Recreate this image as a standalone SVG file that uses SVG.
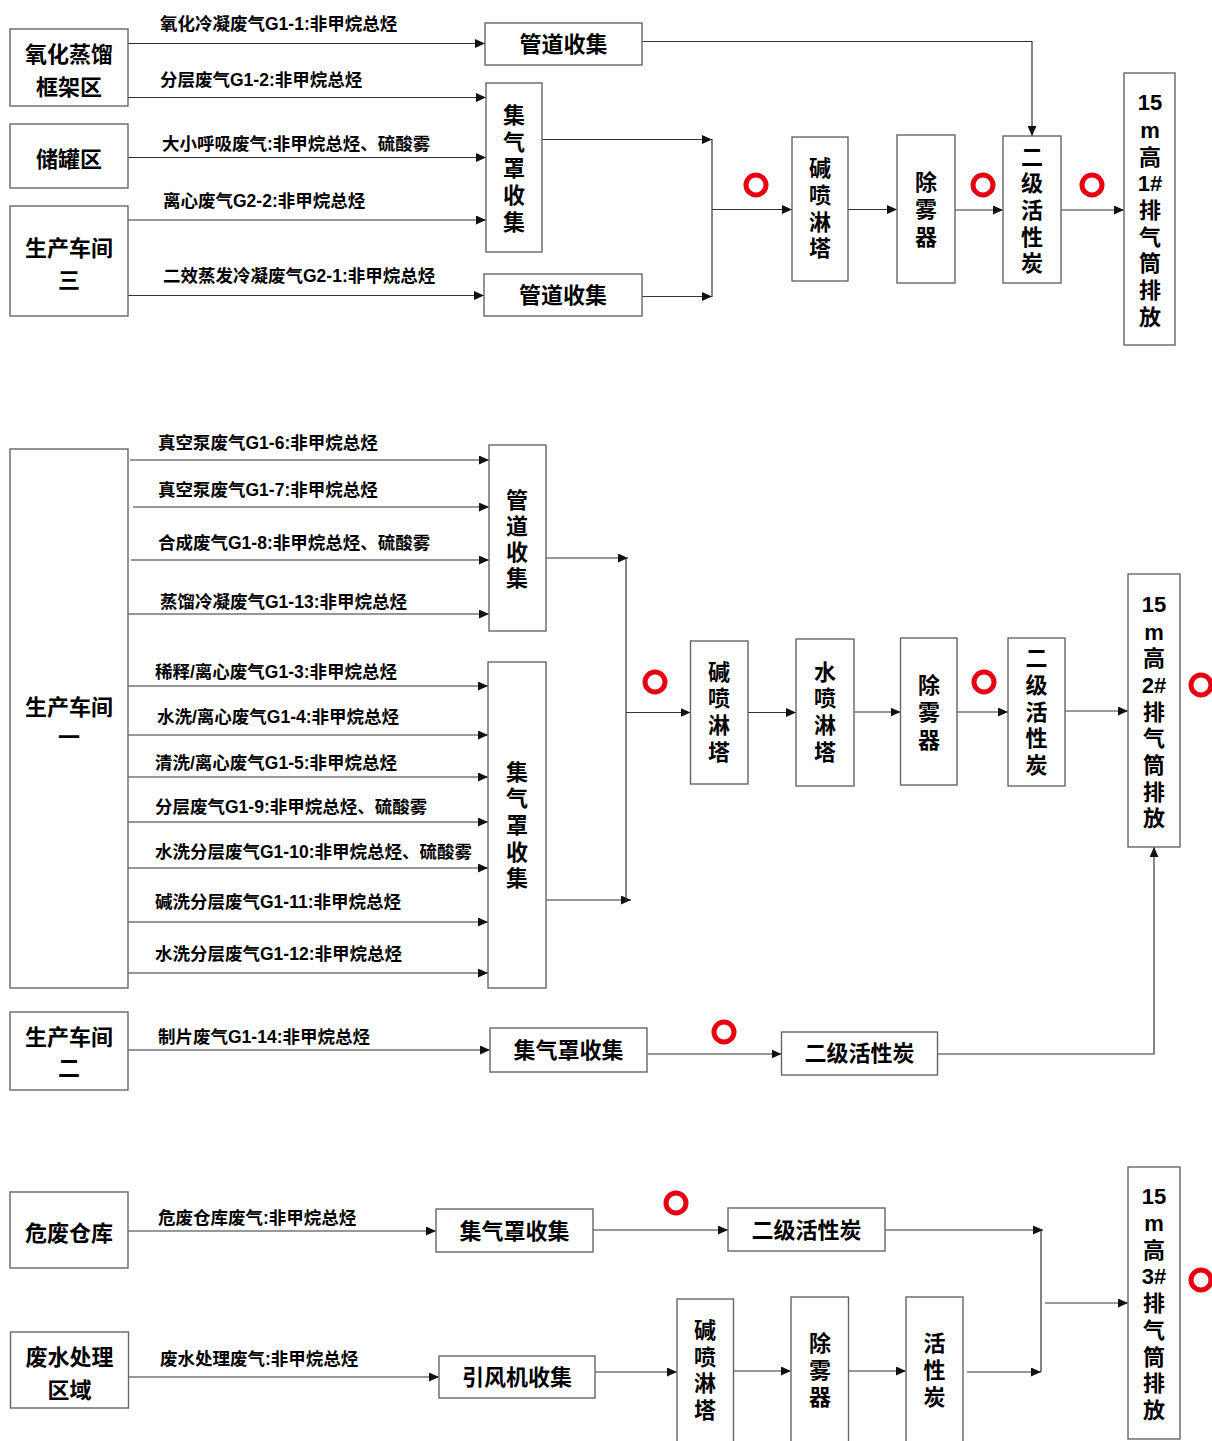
<svg xmlns="http://www.w3.org/2000/svg" width="1212" height="1441" viewBox="0 0 1212 1441">
<defs>
<marker id="ah" viewBox="0 0 10 9" refX="10" refY="4.5" markerWidth="10" markerHeight="9" markerUnits="userSpaceOnUse" orient="auto">
<path d="M0,0 L10,4.5 L0,9 z" fill="#111"/>
</marker>
<style>
.box{fill:#fff;stroke:#666;stroke-width:1.4}
.t{font-family:"Liberation Sans","Noto Sans CJK SC",sans-serif;font-weight:bold;font-size:22px;fill:#000;text-anchor:middle;dominant-baseline:central}
.lb{font-family:"Liberation Sans","Noto Sans CJK SC",sans-serif;font-weight:bold;font-size:17.5px;fill:#000;dominant-baseline:central}
.ln{fill:none;stroke:#333;stroke-width:1.2}
.ar{fill:none;stroke:#333;stroke-width:1.2;marker-end:url(#ah)}
.mk{fill:none;stroke:#e60012;stroke-width:5}
</style>
</defs>
<rect width="1212" height="1441" fill="#fff"/>

<g id="connectors">
<!-- top section -->
<line class="ar" x1="128" y1="43.5" x2="485" y2="43.5"/>
<line class="ar" x1="128" y1="97.5" x2="486" y2="97.5"/>
<line class="ar" x1="128" y1="157.5" x2="486" y2="157.5"/>
<line class="ar" x1="128" y1="220" x2="486" y2="220"/>
<line class="ar" x1="128" y1="295.5" x2="484" y2="295.5"/>
<polyline class="ar" points="642,41.5 1032,41.5 1032,136"/>
<line class="ar" x1="542" y1="139.5" x2="712" y2="139.5"/>
<line class="ar" x1="642" y1="296.5" x2="712" y2="296.5"/>
<line class="ln" x1="712" y1="139" x2="712" y2="297"/>
<line class="ar" x1="712" y1="209.5" x2="792" y2="209.5"/>
<line class="ar" x1="848" y1="209.5" x2="897" y2="209.5"/>
<line class="ar" x1="955" y1="210" x2="1003" y2="210"/>
<line class="ar" x1="1061" y1="210" x2="1124" y2="210"/>
<!-- middle section -->
<line class="ar" x1="130" y1="460" x2="489" y2="460"/>
<line class="ar" x1="133" y1="507" x2="489" y2="507"/>
<line class="ar" x1="131" y1="560" x2="489" y2="560"/>
<line class="ar" x1="128" y1="614" x2="489" y2="614"/>
<line class="ar" x1="128" y1="686" x2="488" y2="686"/>
<line class="ar" x1="128" y1="735" x2="488" y2="735"/>
<line class="ar" x1="128" y1="777" x2="488" y2="777"/>
<line class="ar" x1="128" y1="822" x2="488" y2="822"/>
<line class="ar" x1="128" y1="868" x2="488" y2="868"/>
<line class="ar" x1="128" y1="922" x2="488" y2="922"/>
<line class="ar" x1="128" y1="973" x2="488" y2="973"/>
<line class="ar" x1="546" y1="558" x2="628" y2="558"/>
<line class="ar" x1="546" y1="900" x2="631" y2="900"/>
<line class="ln" x1="626" y1="557" x2="626" y2="901"/>
<line class="ar" x1="626" y1="712.5" x2="690.5" y2="712.5"/>
<line class="ar" x1="748" y1="712.5" x2="796" y2="712.5"/>
<line class="ar" x1="854" y1="712" x2="900.5" y2="712"/>
<line class="ar" x1="957" y1="712" x2="1008" y2="712"/>
<line class="ar" x1="1065" y1="711" x2="1128" y2="711"/>
<line class="ar" x1="128" y1="1050" x2="490" y2="1050"/>
<line class="ar" x1="648" y1="1054" x2="781.5" y2="1054"/>
<polyline class="ar" points="937.5,1054 1154,1054 1154,847"/>
<!-- bottom section -->
<line class="ar" x1="128" y1="1231" x2="436" y2="1231"/>
<line class="ar" x1="593" y1="1230" x2="728" y2="1230"/>
<line class="ar" x1="885" y1="1230" x2="1043" y2="1230"/>
<line class="ln" x1="1041" y1="1230" x2="1041" y2="1372"/>
<line class="ar" x1="1045" y1="1303" x2="1128" y2="1303"/>
<line class="ar" x1="129" y1="1377" x2="439" y2="1377"/>
<line class="ar" x1="595" y1="1372" x2="677" y2="1372"/>
<line class="ar" x1="733.5" y1="1371" x2="791" y2="1371"/>
<line class="ar" x1="848.5" y1="1371" x2="906" y2="1371"/>
<line class="ar" x1="967" y1="1372" x2="1041" y2="1372"/>
</g>

<g id="labels">
<text class="lb" x="160" y="24">氧化冷凝废气G1-1:非甲烷总烃</text>
<text class="lb" x="160" y="80">分层废气G1-2:非甲烷总烃</text>
<text class="lb" x="162" y="144">大小呼吸废气:非甲烷总烃、硫酸雾</text>
<text class="lb" x="163" y="201">离心废气G2-2:非甲烷总烃</text>
<text class="lb" x="163" y="276">二效蒸发冷凝废气G2-1:非甲烷总烃</text>
<text class="lb" x="158" y="443">真空泵废气G1-6:非甲烷总烃</text>
<text class="lb" x="158" y="490">真空泵废气G1-7:非甲烷总烃</text>
<text class="lb" x="158" y="543">合成废气G1-8:非甲烷总烃、硫酸雾</text>
<text class="lb" x="160" y="602">蒸馏冷凝废气G1-13:非甲烷总烃</text>
<text class="lb" x="155" y="672">稀释/离心废气G1-3:非甲烷总烃</text>
<text class="lb" x="157" y="717">水洗/离心废气G1-4:非甲烷总烃</text>
<text class="lb" x="155" y="763">清洗/离心废气G1-5:非甲烷总烃</text>
<text class="lb" x="155" y="807">分层废气G1-9:非甲烷总烃、硫酸雾</text>
<text class="lb" x="155" y="852">水洗分层废气G1-10:非甲烷总烃、硫酸雾</text>
<text class="lb" x="155" y="902">碱洗分层废气G1-11:非甲烷总烃</text>
<text class="lb" x="155" y="954">水洗分层废气G1-12:非甲烷总烃</text>
<text class="lb" x="158" y="1037">制片废气G1-14:非甲烷总烃</text>
<text class="lb" x="158" y="1218">危废仓库废气:非甲烷总烃</text>
<text class="lb" x="160" y="1359">废水处理废气:非甲烷总烃</text>
</g>

<g id="markers">
<circle class="mk" cx="756" cy="185" r="10"/>
<circle class="mk" cx="983" cy="185" r="10"/>
<circle class="mk" cx="1092" cy="185" r="10"/>
<circle class="mk" cx="655" cy="682" r="10"/>
<circle class="mk" cx="984" cy="682" r="10"/>
<circle class="mk" cx="1201" cy="685" r="10"/>
<circle class="mk" cx="724" cy="1032" r="10"/>
<circle class="mk" cx="676" cy="1203" r="10"/>
<circle class="mk" cx="1201" cy="1280" r="10"/>
</g>

<!-- top section nodes -->
<g id="n-yanghua">
<rect class="box" x="10" y="29" width="118" height="77"/>
<text class="t" x="69" y="54">氧化蒸馏</text>
<text class="t" x="69" y="87">框架区</text>
</g>
<g id="n-chuguan">
<rect class="box" x="10" y="124" width="118" height="64"/>
<text class="t" x="69" y="159">储罐区</text>
</g>
<g id="n-chejian3">
<rect class="box" x="10" y="206" width="118" height="110"/>
<text class="t" x="69" y="248">生产车间</text>
<text class="t" x="69" y="280">三</text>
</g>
<g id="n-guandao1">
<rect class="box" x="485" y="23" width="157" height="42"/>
<text class="t" x="563.5" y="44">管道收集</text>
</g>
<g id="n-jiqizhao1">
<rect class="box" x="486" y="83" width="56" height="169"/>
<text class="t" x="514"><tspan x="514" y="115">集</tspan><tspan x="514" y="142">气</tspan><tspan x="514" y="168">罩</tspan><tspan x="514" y="195">收</tspan><tspan x="514" y="222">集</tspan></text>
</g>
<g id="n-guandao2">
<rect class="box" x="484" y="274" width="158" height="42"/>
<text class="t" x="563" y="295">管道收集</text>
</g>
<g id="n-jianpen1">
<rect class="box" x="792" y="137" width="56" height="144"/>
<text class="t" x="820"><tspan x="820" y="168">碱</tspan><tspan x="820" y="195">喷</tspan><tspan x="820" y="222">淋</tspan><tspan x="820" y="248">塔</tspan></text>
</g>
<g id="n-chuwu1">
<rect class="box" x="897" y="135" width="58" height="148"/>
<text class="t" x="926"><tspan x="926" y="182">除</tspan><tspan x="926" y="209">雾</tspan><tspan x="926" y="237">器</tspan></text>
</g>
<g id="n-huoxing1">
<rect class="box" x="1003" y="136" width="58" height="147"/>
<text class="t" x="1032"><tspan x="1032" y="157">二</tspan><tspan x="1032" y="183">级</tspan><tspan x="1032" y="210">活</tspan><tspan x="1032" y="237">性</tspan><tspan x="1032" y="263">炭</tspan></text>
</g>
<g id="n-stack1">
<rect class="box" x="1124" y="73" width="51" height="272"/>
<text class="t" x="1150"><tspan x="1150" y="102">15</tspan><tspan x="1150" y="130">m</tspan><tspan x="1150" y="157">高</tspan><tspan x="1150" y="183">1#</tspan><tspan x="1150" y="210">排</tspan><tspan x="1150" y="237">气</tspan><tspan x="1150" y="263">筒</tspan><tspan x="1150" y="290">排</tspan><tspan x="1150" y="317">放</tspan></text>
</g>

<!-- middle section nodes -->
<g id="n-chejian1">
<rect class="box" x="10" y="449" width="118" height="539"/>
<text class="t" x="69" y="707">生产车间</text>
<text class="t" x="69" y="737">一</text>
</g>
<g id="n-guandao3">
<rect class="box" x="489" y="445" width="57" height="186"/>
<text class="t" x="517"><tspan x="517" y="500">管</tspan><tspan x="517" y="526">道</tspan><tspan x="517" y="552">收</tspan><tspan x="517" y="578">集</tspan></text>
</g>
<g id="n-jiqizhao2">
<rect class="box" x="488" y="662" width="58" height="326"/>
<text class="t" x="517"><tspan x="517" y="772">集</tspan><tspan x="517" y="798">气</tspan><tspan x="517" y="825">罩</tspan><tspan x="517" y="852">收</tspan><tspan x="517" y="878">集</tspan></text>
</g>
<g id="n-jianpen2">
<rect class="box" x="690.5" y="641" width="57.5" height="143"/>
<text class="t" x="719"><tspan x="719" y="672">碱</tspan><tspan x="719" y="698">喷</tspan><tspan x="719" y="725">淋</tspan><tspan x="719" y="752">塔</tspan></text>
</g>
<g id="n-shuipen2">
<rect class="box" x="796" y="639" width="58" height="147"/>
<text class="t" x="825"><tspan x="825" y="672">水</tspan><tspan x="825" y="698">喷</tspan><tspan x="825" y="725">淋</tspan><tspan x="825" y="752">塔</tspan></text>
</g>
<g id="n-chuwu2">
<rect class="box" x="900.5" y="638" width="56.5" height="147"/>
<text class="t" x="929"><tspan x="929" y="685">除</tspan><tspan x="929" y="712">雾</tspan><tspan x="929" y="740">器</tspan></text>
</g>
<g id="n-huoxing2">
<rect class="box" x="1008" y="638" width="57" height="148"/>
<text class="t" x="1036.5"><tspan x="1036.5" y="658">二</tspan><tspan x="1036.5" y="685">级</tspan><tspan x="1036.5" y="712">活</tspan><tspan x="1036.5" y="738">性</tspan><tspan x="1036.5" y="765">炭</tspan></text>
</g>
<g id="n-stack2">
<rect class="box" x="1128" y="574" width="52" height="273"/>
<text class="t" x="1154"><tspan x="1154" y="604">15</tspan><tspan x="1154" y="632">m</tspan><tspan x="1154" y="658">高</tspan><tspan x="1154" y="685">2#</tspan><tspan x="1154" y="712">排</tspan><tspan x="1154" y="738">气</tspan><tspan x="1154" y="765">筒</tspan><tspan x="1154" y="792">排</tspan><tspan x="1154" y="818">放</tspan></text>
</g>
<g id="n-chejian2">
<rect class="box" x="10" y="1012" width="118" height="78"/>
<text class="t" x="69" y="1037">生产车间</text>
<text class="t" x="69" y="1068">二</text>
</g>
<g id="n-jiqizhao3">
<rect class="box" x="490" y="1028" width="157" height="44"/>
<text class="t" x="568.5" y="1050">集气罩收集</text>
</g>
<g id="n-huoxing3">
<rect class="box" x="781.5" y="1032" width="156" height="43"/>
<text class="t" x="859.5" y="1053">二级活性炭</text>
</g>

<!-- bottom section nodes -->
<g id="n-weifei">
<rect class="box" x="10" y="1192" width="118" height="76"/>
<text class="t" x="69" y="1233">危废仓库</text>
</g>
<g id="n-jiqizhao4">
<rect class="box" x="436" y="1209" width="157" height="43"/>
<text class="t" x="514.5" y="1231">集气罩收集</text>
</g>
<g id="n-huoxing4">
<rect class="box" x="728" y="1208" width="157" height="43"/>
<text class="t" x="806.5" y="1230">二级活性炭</text>
</g>
<g id="n-stack3">
<rect class="box" x="1128" y="1167" width="52" height="272"/>
<text class="t" x="1154"><tspan x="1154" y="1196">15</tspan><tspan x="1154" y="1223">m</tspan><tspan x="1154" y="1250">高</tspan><tspan x="1154" y="1276">3#</tspan><tspan x="1154" y="1303">排</tspan><tspan x="1154" y="1330">气</tspan><tspan x="1154" y="1357">筒</tspan><tspan x="1154" y="1383">排</tspan><tspan x="1154" y="1410">放</tspan></text>
</g>
<g id="n-feishui">
<rect class="box" x="10.5" y="1332" width="118" height="76"/>
<text class="t" x="69.5" y="1357">废水处理</text>
<text class="t" x="69.5" y="1390">区域</text>
</g>
<g id="n-yinfeng">
<rect class="box" x="439" y="1356" width="156" height="42"/>
<text class="t" x="517" y="1377">引风机收集</text>
</g>
<g id="n-jianpen4">
<rect class="box" x="677" y="1299" width="56.5" height="160"/>
<text class="t" x="705"><tspan x="705" y="1330">碱</tspan><tspan x="705" y="1357">喷</tspan><tspan x="705" y="1383">淋</tspan><tspan x="705" y="1410">塔</tspan></text>
</g>
<g id="n-chuwu4">
<rect class="box" x="791" y="1297" width="57.5" height="160"/>
<text class="t" x="820"><tspan x="820" y="1343">除</tspan><tspan x="820" y="1370">雾</tspan><tspan x="820" y="1397">器</tspan></text>
</g>
<g id="n-huoxing5">
<rect class="box" x="906" y="1297" width="57" height="160"/>
<text class="t" x="934.5"><tspan x="934.5" y="1343">活</tspan><tspan x="934.5" y="1370">性</tspan><tspan x="934.5" y="1397">炭</tspan></text>
</g>
</svg>
